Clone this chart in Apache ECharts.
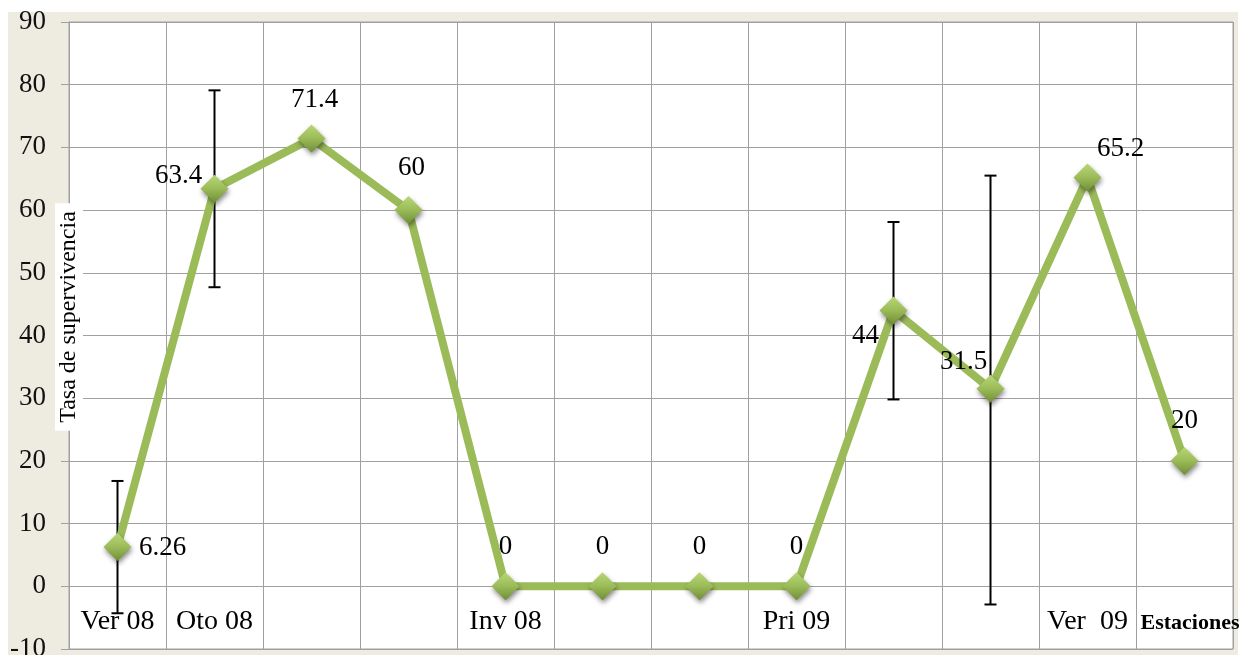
<!DOCTYPE html>
<html>
<head>
<meta charset="utf-8">
<script src="https://cdn.jsdelivr.net/npm/echarts@6/dist/echarts.min.js"></script>
<style>
  html, body { margin: 0; padding: 0; background: #ffffff; }
  #bg { position: absolute; left: 8px; top: 12px; width: 1230px; height: 643px; background: #EEECE1; }
  #chart { position: absolute; left: 0; top: 0; width: 1247px; height: 655px; }
</style>
</head>
<body>
<div id="bg"></div>
<div id="chart"></div>
<script>
// ---- data ----
const categories = ['Ver 08', 'Oto 08', '', '', 'Inv 08', '', '', 'Pri 09', '', '', 'Ver  09', ''];
const survival = [6.26, 63.4, 71.4, 60, 0, 0, 0, 0, 44, 31.5, 65.2, 20];
const errorLow  = [-4.3, 47.7, null, null, null, null, null, null, 29.8, -2.9, null, null];
const errorHigh = [16.8, 79.1, null, null, null, null, null, null, 58.1, 65.5, null, null];
const yMin = -10, yMax = 90, yStep = 10;
const yTitle = 'Tasa de supervivencia';
const xTitle = 'Estaciones';

// ---- label placement (style) ----
const labelOffsets = [[45, 1], [-36, -13], [3, -39], [3, -42], [0, -39], [0, -39], [0, -39], [0, -39],
                      [-28, 25], [-27, -27], [33, -29], [0, -40]];

const serif = "'Times New Roman', 'Liberation Serif', serif";

const lineData = survival.map((v, i) => ({
  value: v,
  label: { offset: labelOffsets[i] }
}));

const errData = [];
categories.forEach((c, i) => {
  if (errorLow[i] !== null && errorHigh[i] !== null) errData.push([i, errorLow[i], errorHigh[i]]);
});

const chart = echarts.init(document.getElementById('chart'), null, { renderer: 'canvas' });
chart.setOption({
  backgroundColor: 'transparent',
  animation: false,
  grid: {
    left: 69, right: 14, top: 22, bottom: 6,
    outerBoundsMode: 'none',
    containLabel: false,
    show: true, backgroundColor: '#ffffff', borderColor: '#a0a0a0', borderWidth: 1
  },
  xAxis: {
    type: 'category',
    data: categories,
    boundaryGap: true,
    axisLine: { show: true, onZero: true, lineStyle: { color: '#a0a0a0', width: 1 } },
    axisTick: { show: false },
    splitLine: { show: true, interval: 0, lineStyle: { color: '#a0a0a0', width: 1 } },
    axisLabel: { interval: 0, margin: -41, color: '#000', fontFamily: serif, fontSize: 28 }
  },
  yAxis: {
    type: 'value',
    min: yMin, max: yMax, interval: yStep,
    axisLine: { show: true, lineStyle: { color: '#a0a0a0', width: 1 } },
    axisTick: { show: true, length: 8, lineStyle: { color: '#a0a0a0' } },
    splitLine: { show: true, lineStyle: { color: '#a0a0a0', width: 1 } },
    axisLabel: { margin: 23, color: '#111', fontFamily: serif, fontSize: 27 }
  },
  graphic: [
    {
      type: 'text', x: 69, y: 317, rotation: Math.PI / 2, z: 100,
      style: {
        text: yTitle, font: '24px ' + serif, fill: '#000',
        align: 'center', verticalAlign: 'middle',
        backgroundColor: '#ffffff', padding: [2, 8, 2, 8]
      }
    },
    {
      type: 'text', x: 1190, y: 623, z: 100,
      style: {
        text: xTitle, font: 'bold 22px ' + serif, fill: '#000',
        align: 'center', verticalAlign: 'middle'
      }
    }
  ],
  series: [
    {
      type: 'custom',
      z: 1,
      silent: true,
      data: errData,
      renderItem: function (params, api) {
        const x = api.value(0);
        const lo = api.coord([x, api.value(1)]);
        const hi = api.coord([x, api.value(2)]);
        const cap = 6;
        const st = { stroke: '#000', lineWidth: 2 };
        return {
          type: 'group',
          children: [
            { type: 'line', shape: { x1: lo[0], y1: lo[1], x2: hi[0], y2: hi[1] }, style: st },
            { type: 'line', shape: { x1: hi[0] - cap, y1: hi[1], x2: hi[0] + cap, y2: hi[1] }, style: st },
            { type: 'line', shape: { x1: lo[0] - cap, y1: lo[1], x2: lo[0] + cap, y2: lo[1] }, style: st }
          ]
        };
      },
      encode: { x: 0, y: [1, 2] }
    },
    {
      type: 'line',
      z: 3,
      data: lineData,
      symbol: 'diamond',
      symbolSize: 28,
      lineStyle: { color: '#9BBB59', width: 8 },
      itemStyle: {
        color: new echarts.graphic.LinearGradient(0, 0, 0, 1, [
          { offset: 0, color: '#B8D774' },
          { offset: 0.5, color: '#9BBB59' },
          { offset: 1, color: '#6E8E33' }
        ]),
        borderWidth: 0,
        shadowBlur: 5, shadowColor: 'rgba(0,0,0,0.45)', shadowOffsetX: 1, shadowOffsetY: 3
      },
      label: {
        show: true,
        position: 'inside',
        color: '#000',
        fontFamily: serif,
        fontSize: 27
      },
      emphasis: { disabled: true }
    }
  ]
});
</script>
</body>
</html>
